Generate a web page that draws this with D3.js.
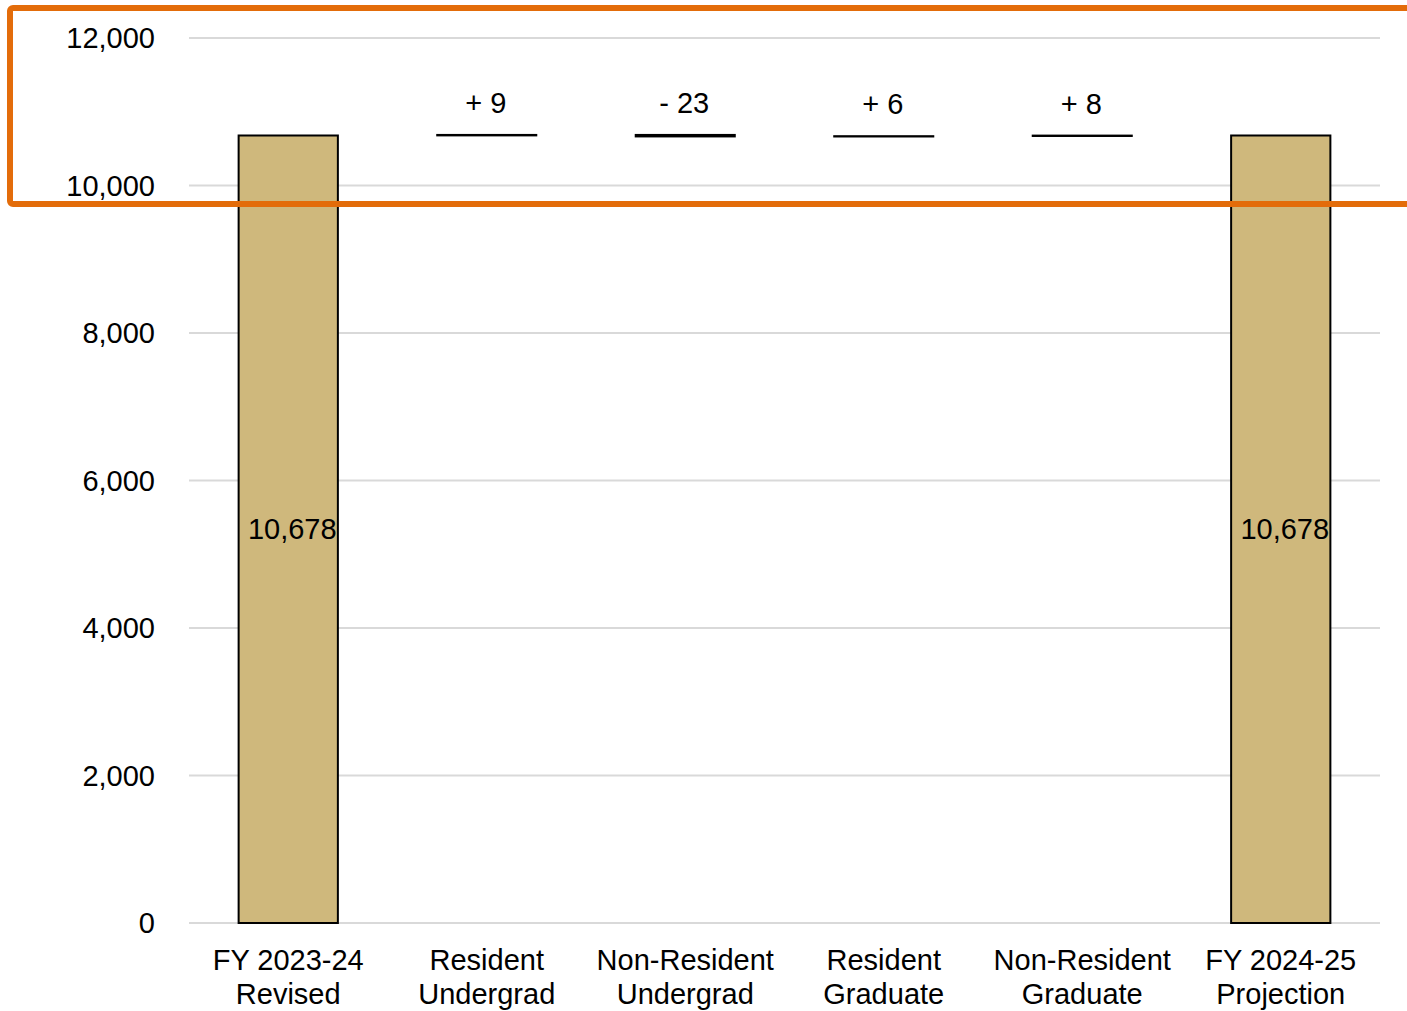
<!DOCTYPE html>
<html><head><meta charset="utf-8">
<script src="https://cdn.jsdelivr.net/npm/d3@7"></script>
<style>body{margin:0;background:#fff;} text{font-family:"Liberation Sans",Arial,sans-serif;}</style>
</head><body><svg id="c" width="1407" height="1011"></svg>
<script>
const categories = [["FY 2023-24","Revised"],["Resident","Undergrad"],["Non-Resident","Undergrad"],["Resident","Graduate"],["Non-Resident","Graduate"],["FY 2024-25","Projection"]];
const kinds = ["total","delta","delta","delta","delta","total"];
const values = [10678, 9, -23, 6, 8, 10678];
const labels = ["10,678","+ 9","- 23","+ 6","+ 8","10,678"];
const yTicks = [0,2000,4000,6000,8000,10000,12000];

const svg = d3.select("#c");
const x = d3.scaleBand().domain(d3.range(categories.length)).range([189,1380]).paddingInner(0.5).paddingOuter(0.25);
const y = d3.scaleLinear().domain([0,12000]).range([923,38]);
const FS = 29;

svg.append("g").selectAll("line").data(yTicks).join("line")
  .attr("x1",189).attr("x2",1380).attr("y1",d=>y(d)).attr("y2",d=>y(d))
  .attr("stroke","#d9d9d9").attr("stroke-width",2);
const fmt = d3.format(",");
svg.append("g").selectAll("text").data(yTicks).join("text")
  .attr("x",155).attr("y",d=>y(d)).attr("dy","0.35em").attr("text-anchor","end")
  .attr("font-size",FS).attr("fill","#000").text(d=>fmt(d));

let run = 0;
const rows = values.map((v,i)=>{
  let lo, hi;
  if(kinds[i]==="total"){ lo=0; hi=v; run=v; }
  else { const s=run; run+=v; lo=Math.min(s,run); hi=Math.max(s,run); }
  return {i,v,lo,hi,kind:kinds[i],label:labels[i]};
});

const g = svg.append("g");
g.selectAll("rect").data(rows).join("rect")
  .attr("x",d=>x(d.i)).attr("width",x.bandwidth())
  .attr("y",d=>y(d.hi)).attr("height",d=>Math.max(0.5,y(d.lo)-y(d.hi)))
  .attr("fill",d=>d.kind==="total"?"#CFB87C":"#000")
  .attr("stroke","#000").attr("stroke-width",d=>d.kind==="total"?2:1.8);

g.selectAll("text.v").data(rows).join("text").attr("class","v")
  .attr("x",d=>x(d.i)+x.bandwidth()/2 + (d.kind==="total"?4:-1))
  .attr("y",d=>d.kind==="total"? (y(d.lo)+y(d.hi))/2 : y(d.hi)-32)
  .attr("dy","0.35em").attr("text-anchor","middle").attr("font-size",FS).attr("fill","#000")
  .text(d=>d.label);

const cl = svg.append("g").selectAll("text").data(categories).join("text")
  .attr("x",(d,i)=>x(i)+x.bandwidth()/2).attr("y",960).attr("text-anchor","middle")
  .attr("font-size",FS).attr("fill","#000");
cl.selectAll("tspan").data(d=>d).join("tspan")
  .attr("x",function(){return this.parentNode.getAttribute("x");})
  .attr("dy",(d,j)=>j===0?"0.35em":"34px").text(d=>d);

svg.append("rect").attr("x",10).attr("y",8).attr("width",1430).attr("height",196).attr("rx",3)
  .attr("fill","none").attr("stroke","#E36C0A").attr("stroke-width",6);
</script></body></html>
